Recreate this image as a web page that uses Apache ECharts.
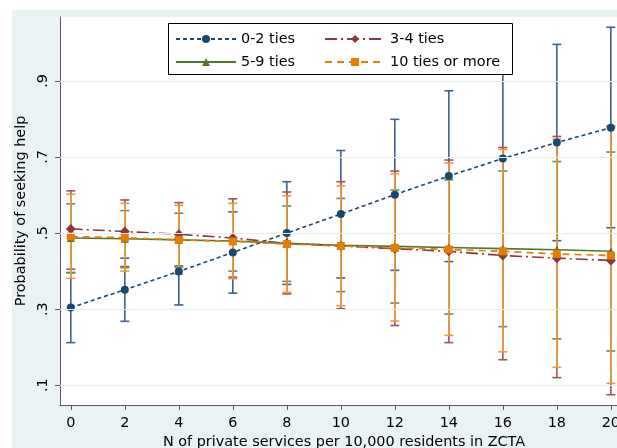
<!DOCTYPE html>
<html>
<head>
<meta charset="utf-8">
<script src="https://cdn.jsdelivr.net/npm/echarts@6/dist/echarts.min.js"></script>
<style>
html,body{margin:0;padding:0;background:#fff;}
#chart{width:617px;height:448px;}
</style>
</head>
<body>
<div id="chart"></div>
<script>
// ---- data ----
const xValues = [0, 2, 4, 6, 8, 10, 12, 14, 16, 18, 20];
const xTickLabels = ['0', '2', '4', '6', '8', '10', '12', '14', '16', '18', '20'];
const yTickValues = [0.1, 0.3, 0.5, 0.7, 0.9];
const yTickLabels = ['.1', '.3', '.5', '.7', '.9'];

const seriesNames = ['0-2 ties', '3-4 ties', '5-9 ties', '10 ties or more'];

const ties02 = [0.304, 0.351, 0.399, 0.449, 0.500, 0.550, 0.601, 0.650, 0.696, 0.738, 0.777];
const ties02Low = [0.212, 0.268, 0.311, 0.342, 0.365, 0.382, 0.402, 0.425, 0.446, 0.480, 0.514];
const ties02High = [0.396, 0.434, 0.487, 0.556, 0.635, 0.717, 0.799, 0.874, 0.946, 0.996, 1.041];

const ties34 = [0.511, 0.504, 0.497, 0.487, 0.473, 0.466, 0.459, 0.452, 0.441, 0.434, 0.428];
const ties34Low = [0.405, 0.412, 0.414, 0.384, 0.340, 0.301, 0.257, 0.212, 0.167, 0.120, 0.075];
const ties34High = [0.611, 0.587, 0.580, 0.590, 0.608, 0.635, 0.663, 0.692, 0.725, 0.754, 0.781];

const ties59 = [0.487, 0.485, 0.482, 0.479, 0.473, 0.468, 0.465, 0.462, 0.459, 0.456, 0.452];
const ties59Low = [0.396, 0.409, 0.410, 0.400, 0.373, 0.346, 0.316, 0.287, 0.254, 0.222, 0.190];
const ties59High = [0.577, 0.559, 0.552, 0.556, 0.571, 0.591, 0.613, 0.640, 0.663, 0.688, 0.713];

const ties10 = [0.491, 0.488, 0.482, 0.478, 0.471, 0.466, 0.461, 0.457, 0.452, 0.445, 0.441];
const ties10Low = [0.381, 0.400, 0.392, 0.380, 0.344, 0.309, 0.269, 0.231, 0.188, 0.147, 0.105];
const ties10High = [0.602, 0.578, 0.573, 0.578, 0.598, 0.624, 0.656, 0.684, 0.720, 0.747, 0.777];

// ---- styles ----
const colors = ['#1a476f', '#90353b', '#55752f', '#e37e00'];
const ciColors = ['#3f628a', '#a4535a', '#6f8c4e', '#f09a3a'];
const FONT = 'DejaVu Sans';
const FS = 14.4;

const chart = echarts.init(document.getElementById('chart'), null, {renderer: 'canvas'});

function pairs(ys) { return xValues.map((x, i) => [x, ys[i]]); }
function ciData(lo, hi) { return xValues.map((x, i) => [x, lo[i], hi[i]]); }

function ciSeries(name, lo, hi, color) {
  return {
    type: 'custom',
    name: name + ' CI',
    z: 2,
    silent: true,
    data: ciData(lo, hi),
    encode: {x: 0, y: [1, 2]},
    renderItem: function (params, api) {
      const x = api.value(0), l = api.value(1), h = api.value(2);
      const pL = api.coord([x, l]);
      const pH = api.coord([x, h]);
      const hw = 4.5;
      const st = {stroke: color, lineWidth: 1.6};
      return {
        type: 'group',
        children: [
          {type: 'line', shape: {x1: pL[0], y1: pL[1], x2: pH[0], y2: pH[1]}, style: st},
          {type: 'line', shape: {x1: pL[0] - hw, y1: pL[1], x2: pL[0] + hw, y2: pL[1]}, style: st},
          {type: 'line', shape: {x1: pH[0] - hw, y1: pH[1], x2: pH[0] + hw, y2: pH[1]}, style: st}
        ]
      };
    }
  };
}

function lineSeries(name, ys, color, dash, symbol, size) {
  return {
    type: 'line',
    name: name,
    z: 3,
    data: pairs(ys),
    symbol: symbol,
    symbolSize: size,
    showSymbol: true,
    lineStyle: {color: color, width: 1.6, type: dash},
    itemStyle: {color: color, borderWidth: 0},
    silent: true
  };
}

const option = {
  animation: false,
  backgroundColor: '#ffffff',
  textStyle: {fontFamily: FONT},
  graphic: [
    {type: 'rect', z: -10, silent: true, shape: {x: 12, y: 10, width: 620, height: 450}, style: {fill: '#eaf2f3'}},
    {type: 'rect', z: 15, silent: true, shape: {x: 168.5, y: 23.5, width: 344, height: 51}, style: {fill: '#ffffff', stroke: '#000000', lineWidth: 1}}
  ],
  grid: {
    left: 60, top: 17, width: 568, height: 388,
    outerBoundsMode: 'none',
    show: true, backgroundColor: '#ffffff', borderWidth: 0, containLabel: false
  },
  legend: [
    {
      data: [seriesNames[0], seriesNames[1]],
      left: 175, top: 32, z: 20, padding: 0,
      itemWidth: 60, itemHeight: 10, itemGap: 29,
      textStyle: {fontFamily: FONT, fontSize: FS, color: '#000'},
      selectedMode: false
    },
    {
      data: [seriesNames[2], seriesNames[3]],
      left: 175, top: 55, z: 20, padding: 0,
      itemWidth: 60, itemHeight: 10, itemGap: 29,
      textStyle: {fontFamily: FONT, fontSize: FS, color: '#000'},
      selectedMode: false
    }
  ],
  xAxis: {
    type: 'value',
    min: -0.4, max: 20.635,
    name: 'N of private services per 10,000 residents in ZCTA',
    nameLocation: 'middle', nameGap: 28,
    nameTextStyle: {fontFamily: FONT, fontSize: FS, color: '#000'},
    axisLine: {show: true, onZero: false, lineStyle: {color: '#5a5a5a', width: 1}},
    axisTick: {show: true, customValues: xValues, length: 5, lineStyle: {color: '#5a5a5a'}},
    axisLabel: {
      customValues: xValues, margin: 11,
      fontFamily: FONT, fontSize: FS, color: '#000',
      formatter: function (v) { const i = xValues.indexOf(v); return i >= 0 ? xTickLabels[i] : ''; }
    },
    splitLine: {show: false}
  },
  yAxis: {
    type: 'value',
    min: 0.048, max: 1.068,
    name: 'Probability of seeking help',
    nameLocation: 'middle', nameGap: 19, nameRotate: 90,
    nameTextStyle: {fontFamily: FONT, fontSize: FS, color: '#000'},
    axisLine: {show: true, onZero: false, lineStyle: {color: '#5a5a5a', width: 1}},
    axisTick: {show: true, customValues: yTickValues, length: 5, lineStyle: {color: '#5a5a5a'}},
    axisLabel: {
      customValues: yTickValues, margin: 10, rotate: 90,
      fontFamily: FONT, fontSize: FS, color: '#000',
      formatter: function (v) {
        for (let i = 0; i < yTickValues.length; i++) { if (Math.abs(yTickValues[i] - v) < 1e-6) return yTickLabels[i]; }
        return '';
      }
    },
    splitLine: {show: false}
  },
  series: [
    {
      type: 'line', name: 'grid', data: [], z: 1, silent: true,
      markLine: {
        silent: true, symbol: 'none', animation: false,
        label: {show: false},
        lineStyle: {color: '#e6eef0', type: 'solid', width: 1},
        data: yTickValues.map(v => ({yAxis: v}))
      }
    },
    ciSeries(seriesNames[0], ties02Low, ties02High, ciColors[0]),
    ciSeries(seriesNames[1], ties34Low, ties34High, ciColors[1]),
    ciSeries(seriesNames[2], ties59Low, ties59High, ciColors[2]),
    ciSeries(seriesNames[3], ties10Low, ties10High, ciColors[3]),
    lineSeries(seriesNames[0], ties02, colors[0], [4, 3], 'circle', 8),
    lineSeries(seriesNames[1], ties34, colors[1], [12, 4, 2, 4], 'diamond', 10),
    lineSeries(seriesNames[2], ties59, colors[2], 'solid', 'triangle', 8),
    lineSeries(seriesNames[3], ties10, colors[3], [7, 5], 'rect', 8)
  ]
};
chart.setOption(option);
</script>
</body>
</html>
